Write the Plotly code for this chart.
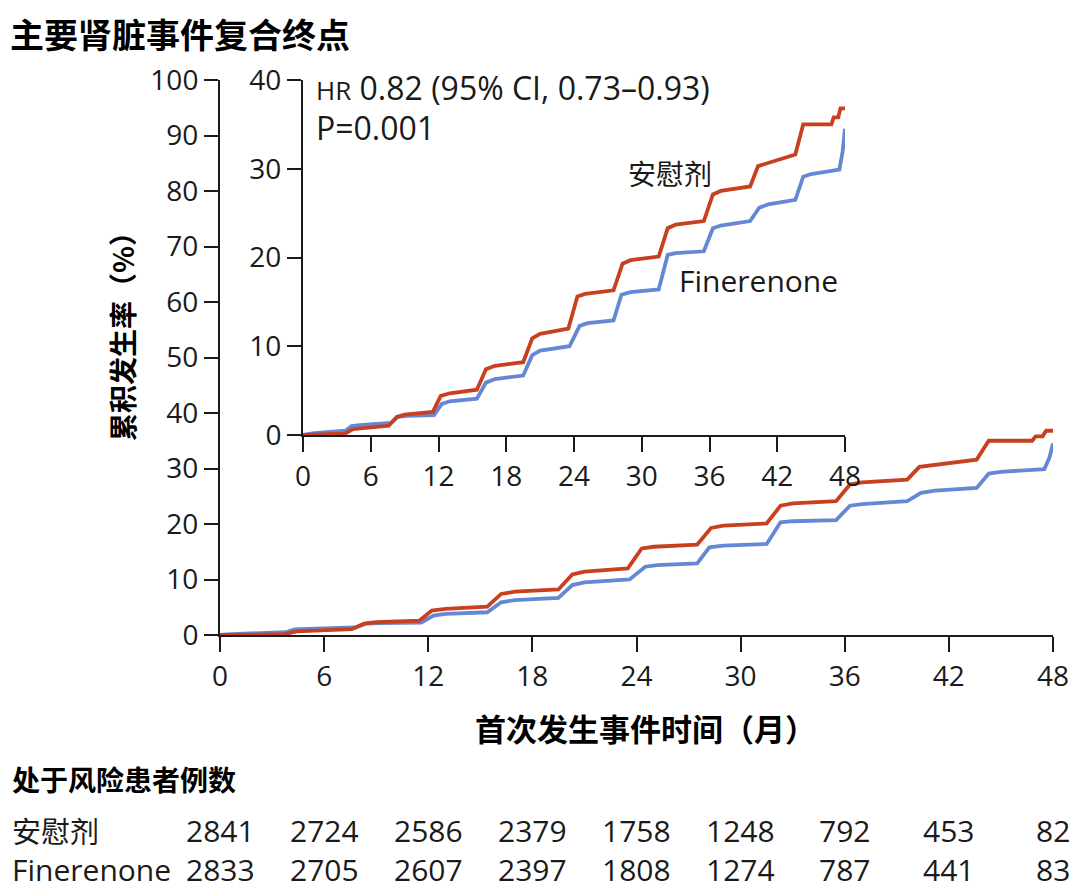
import plotly.graph_objects as go

# ---------------- data ----------------
placebo_t = [0, 1.5, 3.7, 4.4, 5.5, 7.6, 8.3, 9.0, 11.5, 12.2, 13.0, 15.4, 16.2, 17.0, 19.5, 20.3, 21.0,
             23.5, 24.3, 25.0, 27.5, 28.3, 29.0, 31.5, 32.3, 33.0, 35.5, 36.3, 37.0, 39.6, 40.3, 42.0,
             43.6, 44.3, 46.8, 47.0, 47.4, 47.6, 48.0]
placebo_v = [0, 0.05, 0.15, 0.65, 0.8, 1.05, 2.05, 2.3, 2.6, 4.4, 4.7, 5.1, 7.4, 7.8, 8.2, 10.9, 11.4,
             12.0, 15.6, 15.9, 16.3, 19.3, 19.7, 20.1, 23.3, 23.7, 24.1, 27.1, 27.5, 28.0, 30.3, 31.0,
             31.6, 35.0, 35.0, 35.8, 35.8, 36.8, 36.8]

finer_t = [0, 1.0, 3.8, 4.3, 5.0, 7.8, 8.4, 9.2, 11.6, 12.3, 13.0, 15.4, 16.2, 17.0, 19.5, 20.3, 21.0,
           23.6, 24.5, 25.2, 27.5, 28.2, 29.0, 31.5, 32.3, 33.0, 35.5, 36.3, 37.0, 39.6, 40.4, 41.2,
           43.6, 44.3, 45.0, 47.5, 47.8, 48.0]
finer_v = [0, 0.2, 0.5, 1.0, 1.1, 1.35, 2.05, 2.15, 2.25, 3.5, 3.8, 4.1, 5.9, 6.3, 6.7, 9.0, 9.5,
           10.0, 12.3, 12.6, 12.9, 15.8, 16.1, 16.4, 20.3, 20.5, 20.7, 23.3, 23.6, 24.1, 25.6, 26.0,
           26.5, 29.1, 29.4, 29.9, 32.0, 34.5]

risk_months = [0, 6, 12, 18, 24, 30, 36, 42, 48]
risk_placebo = [2841, 2724, 2586, 2379, 1758, 1248, 792, 453, 82]
risk_finer = [2833, 2705, 2607, 2397, 1808, 1274, 787, 441, 83]

main_yticks = list(range(0, 101, 10))
inset_yticks = [0, 10, 20, 30, 40]
xticks = list(range(0, 49, 6))

# ---------------- style ----------------
RED = "#C8401F"
BLUE = "#6488D4"
INK = "#1a1a1a"
LAT = "Open Sans, Noto Sans CJK SC, sans-serif"
CJK = "Noto Sans CJK SC, sans-serif"

W, H = 1080, 889
L, R, T, B = 220, 27, 80, 254
PH = H - T - B
PW = W - L - R


def py(p):  # pixel y -> paper
    return (H - B - p) / PH


def px(p):  # pixel x -> paper
    return (p - L) / PW


fig = go.Figure()
for xa, ya in [("x", "y"), ("x2", "y2")]:
    fig.add_trace(go.Scatter(x=finer_t, y=finer_v, mode="lines", xaxis=xa, yaxis=ya,
                             line=dict(color=BLUE, width=3.8), showlegend=False, hoverinfo="skip"))
    fig.add_trace(go.Scatter(x=placebo_t, y=placebo_v, mode="lines", xaxis=xa, yaxis=ya,
                             line=dict(color=RED, width=3.8), showlegend=False, hoverinfo="skip"))

axis_common = dict(showline=True, linecolor=INK, linewidth=2, ticks="outside", tickwidth=2,
                   tickcolor=INK, showgrid=False, zeroline=False,
                   tickfont=dict(family=LAT, size=28, color=INK))

fig.update_layout(
    width=W, height=H,
    margin=dict(l=L, r=R, t=T, b=B, autoexpand=False),
    paper_bgcolor="white", plot_bgcolor="white",
    xaxis=dict(domain=[0, 1], range=[0, 48], tickvals=xticks, ticklen=15, anchor="y", **axis_common),
    yaxis=dict(domain=[0, 1], range=[0, 100], tickvals=main_yticks, ticklen=14, anchor="x", **axis_common),
    xaxis2=dict(domain=[px(303), px(845)], range=[0, 48], tickvals=xticks, ticklen=15, anchor="y2",
                **{**axis_common, "tickfont": dict(family="Liberation Sans Narrow, " + LAT, size=28, color=INK)}),
    yaxis2=dict(domain=[py(435), 1.0], range=[0, 40], tickvals=inset_yticks, ticklen=14, anchor="x2",
                **axis_common),
)

ann = []
ann.append(dict(text="<b>主要肾脏事件复合终点</b>", x=px(8), y=py(34), xanchor="left", yanchor="middle",
                font=dict(family=CJK, size=34, color="black")))
ann.append(dict(text="<b>累积发生率（%）</b>", x=px(122), y=py(330), textangle=-90, xanchor="center",
                yanchor="middle", font=dict(family=CJK, size=28, color="black")))
ann.append(dict(text="<b>首次发生事件时间（月）</b>", x=px(645), y=py(727), xanchor="center", yanchor="middle",
                font=dict(family=CJK, size=31, color="black")))
ann.append(dict(text="<span style='font-size:26px'>HR</span> 0.82 (95% CI, 0.73–0.93)", x=px(314), y=py(88),
                xanchor="left", yanchor="middle", font=dict(family=LAT, size=32, color=INK)))
ann.append(dict(text="P=0.001", x=px(314), y=py(127), xanchor="left", yanchor="middle",
                font=dict(family=LAT, size=32, color=INK)))
ann.append(dict(text="安慰剂", x=px(670), y=py(173), xanchor="center", yanchor="middle",
                font=dict(family=CJK, size=28, color=INK)))
ann.append(dict(text="Finerenone", x=px(758), y=py(280), xanchor="center", yanchor="middle",
                font=dict(family=LAT, size=30, color=INK)))
ann.append(dict(text="<b>处于风险患者例数</b>", x=px(10), y=py(779), xanchor="left", yanchor="middle",
                font=dict(family=CJK, size=28, color="black")))
ann.append(dict(text="安慰剂", x=px(10), y=py(830), xanchor="left", yanchor="middle",
                font=dict(family=CJK, size=29, color=INK)))
ann.append(dict(text="Finerenone", x=px(10), y=py(869), xanchor="left", yanchor="middle",
                font=dict(family=LAT, size=30, color=INK)))
for m, a, b in zip(risk_months, risk_placebo, risk_finer):
    ann.append(dict(text=str(a), x=m, xref="x", y=py(830), yref="paper", xanchor="center",
                    yanchor="middle", font=dict(family=LAT, size=30, color=INK), showarrow=False))
    ann.append(dict(text=str(b), x=m, xref="x", y=py(869), yref="paper", xanchor="center",
                    yanchor="middle", font=dict(family=LAT, size=30, color=INK), showarrow=False))

for a in ann:
    a.setdefault("xref", "paper")
    a.setdefault("yref", "paper")
    a["showarrow"] = False
fig.update_layout(annotations=ann)

fig.write_html("out.html", config={"displayModeBar": False},
               post_script="document.body.style.margin='0';document.body.style.overflow='hidden';")
